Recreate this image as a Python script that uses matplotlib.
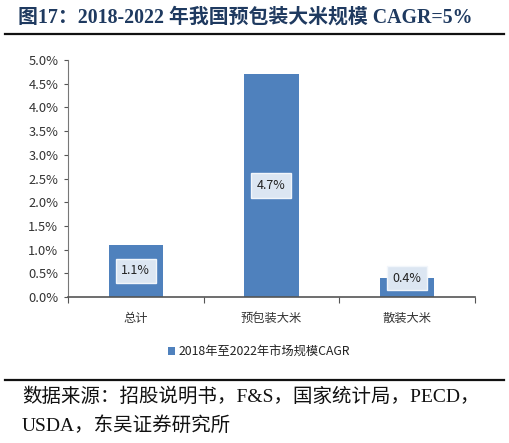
import matplotlib.pyplot as plt
from matplotlib.lines import Line2D
from matplotlib.ticker import FuncFormatter

plt.rcParams['font.family'] = ['Noto Sans CJK SC', 'DejaVu Sans']

categories = ['总计', '预包装大米', '散装大米']
cagr = [1.1, 4.7, 0.4]
bar_labels = ['1.1%', '4.7%', '0.4%']
series_name = '2018年至2022年市场规模CAGR'
title = '图17：2018-2022 年我国预包装大米规模 CAGR=5%'
source_lines = ['数据来源：招股说明书，F&S，国家统计局，PECD，', 'USDA，东吴证券研究所']

W, H = 510, 443
fig = plt.figure(figsize=(W / 100, H / 100), dpi=100)

# axes: x 68..475 px, y 60..297 px
ax = fig.add_axes([68 / W, 1 - 297 / H, (475 - 68) / W, (297 - 60) / H])
x = range(len(categories))
bars = ax.bar(x, cagr, width=0.4, color='#4F81BD', label=series_name, zorder=2)
ax.set_xlim(-0.5, len(categories) - 0.5)
ax.set_ylim(0, 5.0)
ax.set_yticks([i * 0.5 for i in range(11)])
ax.yaxis.set_major_formatter(FuncFormatter(lambda v, p: f'{v:.1f}%'))
ax.set_xticks([i - 0.5 for i in range(len(categories) + 1)])
ax.set_xticklabels([])
ax.set_xticks(list(x), minor=True)
ax.set_xticklabels(categories, minor=True)
ax.tick_params(axis='x', which='minor', length=0, pad=11, labelsize=8.8, labelcolor='#333333')
ax.tick_params(axis='x', which='major', length=4, color='#555555')
ax.tick_params(axis='y', length=3, labelsize=9.3, labelcolor='#333333', color='#555555', pad=4)
for s in ['top', 'right']:
    ax.spines[s].set_visible(False)
ax.spines['left'].set_color('#777777')
ax.spines['bottom'].set_color('#555555')
ax.spines['bottom'].set_linewidth(1.2)

for b, v, lab in zip(bars, cagr, bar_labels):
    ypos = max(v / 2, 0.4)
    ax.text(b.get_x() + b.get_width() / 2, ypos, lab, ha='center', va='center', fontsize=9,
            color='#222222', zorder=3,
            bbox=dict(boxstyle='square,pad=0.45', facecolor='#DCE6F2', edgecolor='#F2F6FB', linewidth=1))

fig.legend(handles=[bars], labels=[series_name], loc='center', bbox_to_anchor=(259 / W, 1 - 352 / H),
           ncol=1, frameon=False, fontsize=8.8, handlelength=0.6, handleheight=0.6,
           handletextpad=0.3, labelcolor='#222222')

fig.text(18 / W, 1 - 18 / H, title, ha='left', va='center', fontsize=14.3, fontweight='bold',
         color='#1F3A60', family=['Liberation Serif', 'Noto Sans CJK SC'])
fig.add_artist(Line2D([5 / W, 504 / W], [1 - 34 / H, 1 - 34 / H], color='#111111', linewidth=1.6))
fig.add_artist(Line2D([5 / W, 504 / W], [1 - 380 / H, 1 - 380 / H], color='#111111', linewidth=1.6))
for i, line in enumerate(source_lines):
    fig.text(22 / W, 1 - (397 + 29 * i) / H, line, ha='left', va='center', fontsize=14,
             color='#111111', family=['Liberation Serif', 'Noto Sans CJK SC'])

plt.savefig('out.png', dpi=100)
